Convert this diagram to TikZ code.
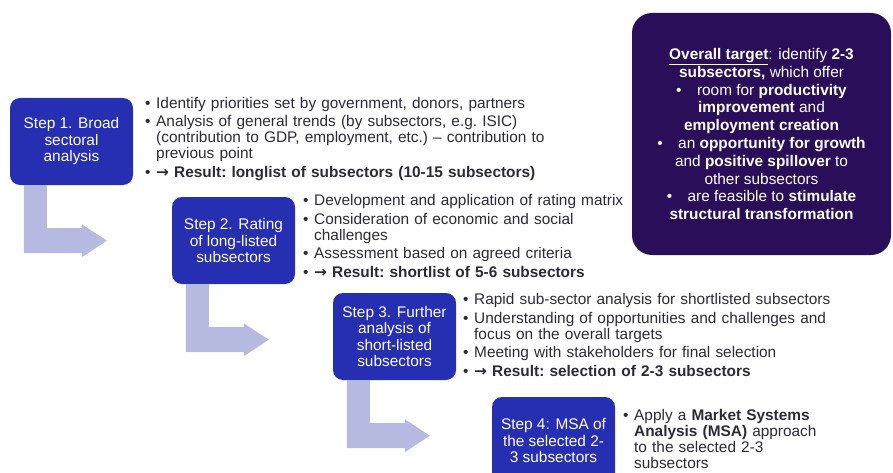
\documentclass[tikz,border=0pt]{standalone}
\usepackage{fontspec}
\setmainfont{Liberation Sans}
\newfontfamily\arrowfont{DejaVu Sans}
\usetikzlibrary{calc}
\tikzset{every node/.append style={align=center}}
\definecolor{stepblue}{RGB}{38,46,178}
\definecolor{arrowlav}{RGB}{182,186,224}
\definecolor{targetpurple}{RGB}{42,14,90}
\definecolor{textdark}{RGB}{45,42,55}
\tikzset{
  stepbox/.style={fill=stepblue, text=white, rounded corners=10pt,
    minimum width=123pt, minimum height=87pt, inner sep=2pt,
    font=\fontsize{15.4}{16.5}\selectfont},
  bulletlist/.style={anchor=base west, inner sep=0pt, text width=#1,
    align=left, text=textdark, font=\fontsize{15.4}{16}\selectfont,
    execute at begin node={\setlength{\parskip}{2.5pt}\frenchspacing}},
}
\newcommand{\bitem}[1]{\hangindent=11pt\hangafter=1\noindent
  \makebox[11pt][l]{\textbullet}#1\par}
\newcommand{\resarrow}{{\arrowfont\bfseries →}}

\begin{document}
\begin{tikzpicture}[x=1pt, y=-1pt]

  \useasboundingbox (0,0) rectangle (893,473);
  \clip (0,0) rectangle (893,473);

  % === STEP BOXES ===
  \node[stepbox] (s1) at (71.5,141.5) {Step 1. Broad\\ sectoral\\ analysis};
  \node[stepbox] (s2) at (233.5,240.5) {Step 2. Rating\\ of long-listed\\ subsectors};
  \node[stepbox] (s3) at (394.5,336.5) {Step 3. Further\\ analysis of\\ short-listed\\ subsectors};
  \node[stepbox] (s4) at (553.5,440.5) {Step 4: MSA of\\ the selected 2-\\ 3 subsectors};

  % L-shaped arrows below each step
  \foreach \n in {s1,s2,s3} {
    \fill[arrowlav]
      ($(\n.south west)+(14,0)$) -- ($(\n.south west)+(37,0)$)
      -- ($(\n.south west)+(37,43)$) -- ($(\n.south west)+(72,43)$)
      -- ($(\n.south west)+(72,39)$) -- ($(\n.south west)+(97,55.5)$)
      -- ($(\n.south west)+(72,72)$) -- ($(\n.south west)+(72,68)$)
      -- ($(\n.south west)+(14,68)$) -- cycle;
  }

  % === BULLET LISTS ===
  \node[bulletlist=440pt] (l1) at (145,108.5) {%
    \bitem{Identify priorities set by government, donors, partners}
    \bitem{Analysis of general trends (by subsectors, e.g. ISIC)\newline
      (contribution to GDP, employment, etc.) -- contribution to\newline
      previous point}
    \bitem{\resarrow{} \textbf{Result: longlist of subsectors (10-15 subsectors)}}};

  \node[bulletlist=330pt] (l2) at (303,205.5) {%
    \bitem{Development and application of rating matrix}
    \bitem{Consideration of economic and social\newline challenges}
    \bitem{Assessment based on agreed criteria}
    \bitem{\resarrow{} \textbf{Result: shortlist of 5-6 subsectors}}};

  \node[bulletlist=380pt] (l3) at (463,304.5) {%
    \bitem{Rapid sub-sector analysis for shortlisted subsectors}
    \bitem{Understanding of opportunities and challenges and\newline
      focus on the overall targets}
    \bitem{Meeting with stakeholders for final selection}
    \bitem{\resarrow{} \textbf{Result: selection of 2-3 subsectors}}};

  \node[bulletlist=260pt] (l4) at (623,420.5) {%
    \bitem{Apply a \textbf{Market Systems}\newline
      \textbf{Analysis (MSA)} approach\newline
      to the selected 2-3\newline
      subsectors}};

  % === OVERALL TARGET ===
  \node[fill=targetpurple, text=white, rounded corners=20pt,
    minimum width=259pt, minimum height=242pt, inner sep=0pt,
    font=\fontsize{15.4}{17.8}\selectfont] (target) at (761.5,134)
    {\underline{\textbf{Overall target}}: identify \textbf{2-3}\\
     \textbf{subsectors,} which offer\\
     \textbullet\quad room for \textbf{productivity}\\
     \textbf{improvement} and\\
     \textbf{employment creation}\\
     \textbullet\quad an \textbf{opportunity for growth}\\
     and \textbf{positive spillover} to\\
     other subsectors\\
     \textbullet\quad are feasible to \textbf{stimulate}\\
     \textbf{structural transformation}};

\end{tikzpicture}
\end{document}
